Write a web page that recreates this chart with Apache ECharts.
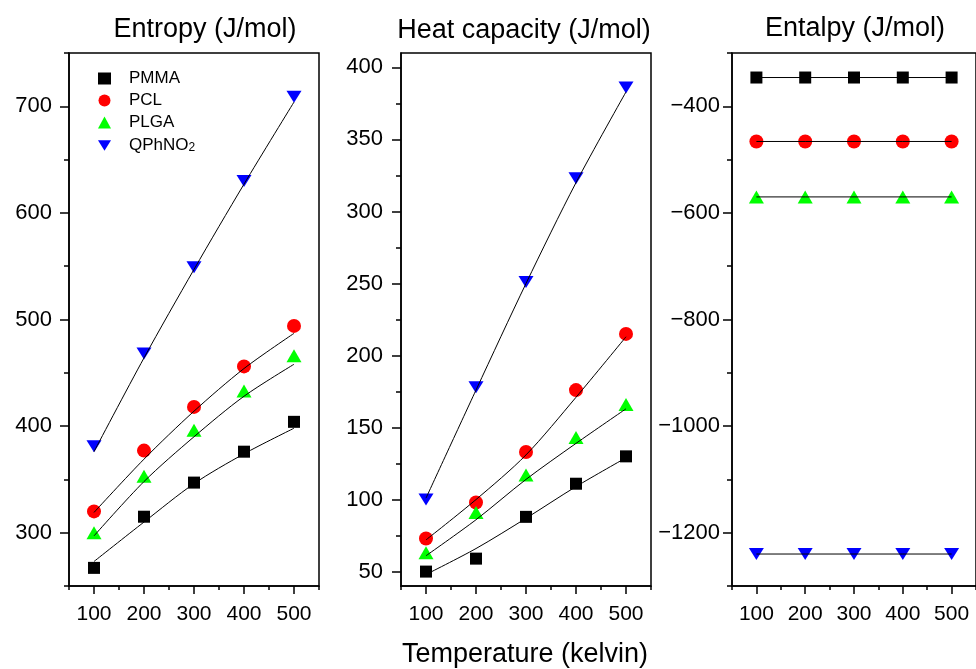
<!DOCTYPE html>
<html>
<head>
<meta charset="utf-8">
<script src="https://cdn.jsdelivr.net/npm/echarts@6/dist/echarts.min.js"></script>
<style>
  html, body { margin: 0; padding: 0; background: #fff; }
  #chart { width: 976px; height: 669px; }
</style>
</head>
<body>
<div id="chart"></div>
<script>
const temps = [100, 200, 300, 400, 500];
const names = ["PMMA", "PCL", "PLGA", "QPhNO2"];

// measured points, order follows names
const entropyPoints = [
  [267, 315, 347, 376, 404],
  [320, 377, 418, 456, 494],
  [300, 353, 396, 433, 466],
  [381, 468, 549, 630, 709],
];
// fitted curves
const entropyFit = [
  [273, 310, 346, 374, 398],
  [319, 369, 414, 454, 487],
  [297, 348, 390, 428, 458],
  [376, 464, 547, 627, 704],
];
const heatPoints = [
  [50, 59, 88, 111, 130],
  [73, 98, 133, 176, 215],
  [63, 91, 117, 143, 166],
  [100, 178, 251, 323, 386],
];
const heatFit = [
  [48, 66, 87, 109, 129],
  [72, 100, 131, 171, 213],
  [61, 86, 114, 139, 163],
  [101, 176, 250, 320, 383],
];
const enthalpyPoints = [
  [-346, -346, -346, -346, -346],
  [-466, -466, -466, -466, -466],
  [-570, -570, -570, -570, -570],
  [-1240, -1240, -1240, -1240, -1240],
];

const tempTicks = [100, 200, 300, 400, 500];
const tempMinor = [50, 150, 250, 350, 450, 550];
const entropyTicks = [300, 400, 500, 600, 700];
const entropyMinor = [250, 350, 450, 550, 650, 750];
const heatTicks = [50, 100, 150, 200, 250, 300, 350, 400];
const heatMinor = [75, 125, 175, 225, 275, 325, 375];
const enthalpyTicks = [-1200, -1000, -800, -600, -400];
const enthalpyMinor = [-1300, -1100, -900, -700, -500, -300];

const colors = ["#000000", "#ff0000", "#00ff00", "#0000ff"];
const downTri = "path://M0,0L10,0L5,8.2Z";
const symbols = ["rect", "circle", "triangle", downTri];
const sizes = [12, 14, [15, 13], [15, 12]];

const FONT = "'Liberation Sans', Arial, sans-serif";
const gridBoxes = [
  { left: 69, top: 53, width: 250, height: 533 },
  { left: 401, top: 53, width: 250, height: 533 },
  { left: 732, top: 53, width: 250, height: 533 },
];
const yRanges = [
  { min: 250, max: 750, ticks: entropyTicks, minor: entropyMinor, margin: 17 },
  { min: 40, max: 410, ticks: heatTicks, minor: heatMinor, margin: 18 },
  { min: -1300, max: -300, ticks: enthalpyTicks, minor: enthalpyMinor, margin: 12 },
];

const lineColor = "#000";
const fmt = (v) => String(v).replace("-", "\u2212");

const xAxis = [];
const yAxis = [];
gridBoxes.forEach((g, i) => {
  // major axis: line, labels, long ticks
  xAxis.push({
    type: "value", gridIndex: i, position: "bottom", min: 50, max: 550,
    axisLine: { lineStyle: { color: lineColor, width: 1.5 } },
    axisTick: { customValues: tempTicks, length: 8, lineStyle: { color: lineColor, width: 1.5 } },
    axisLabel: { customValues: tempTicks, margin: 18, color: "#000", fontSize: 21, fontFamily: FONT },
    splitLine: { show: false },
  });
  // minor ticks only
  xAxis.push({
    type: "value", gridIndex: i, position: "bottom", min: 50, max: 550,
    axisLine: { show: false },
    axisTick: { customValues: tempMinor, length: 4, lineStyle: { color: lineColor, width: 1.5 } },
    axisLabel: { show: false },
    splitLine: { show: false },
  });
  const r = yRanges[i];
  yAxis.push({
    type: "value", gridIndex: i, position: "left", min: r.min, max: r.max,
    axisLine: { show: true, lineStyle: { color: lineColor, width: 1.5 } },
    axisTick: { show: true, customValues: r.ticks, length: 9, lineStyle: { color: lineColor, width: 1.5 } },
    axisLabel: { customValues: r.ticks, margin: r.margin, color: "#000", fontSize: 22, fontFamily: FONT, formatter: fmt },
    splitLine: { show: false },
  });
  yAxis.push({
    type: "value", gridIndex: i, position: "left", min: r.min, max: r.max,
    axisLine: { show: false },
    axisTick: { show: true, customValues: r.minor, length: 5, lineStyle: { color: lineColor, width: 1.5 } },
    axisLabel: { show: false },
    splitLine: { show: false },
  });
});

const panels = [
  { points: entropyPoints, fit: entropyFit },
  { points: heatPoints, fit: heatFit },
  { points: enthalpyPoints, fit: enthalpyPoints },
];

const series = [];
panels.forEach((p, i) => {
  names.forEach((name, k) => {
    series.push({
      name: name + " fit",
      type: "line",
      xAxisIndex: i * 2,
      yAxisIndex: i * 2,
      data: temps.map((t, j) => [t, p.fit[k][j]]),
      smooth: i === 2 ? false : 0.3,
      showSymbol: false,
      silent: true,
      z: 3,
      lineStyle: { color: "#000", width: 1 },
    });
    series.push({
      name,
      type: "scatter",
      xAxisIndex: i * 2,
      yAxisIndex: i * 2,
      data: temps.map((t, j) => [t, p.points[k][j]]),
      symbol: symbols[k],
      symbolSize: sizes[k],
      z: 2,
      itemStyle: { color: colors[k], opacity: 1 },
    });
  });
});

const titleStyle = (text, x, y, size) => ({
  type: "text", x, y,
  style: { text, fill: "#000", fontSize: size, fontFamily: FONT, align: "center", verticalAlign: "middle" },
});

const chart = echarts.init(document.getElementById("chart"));
chart.setOption({
  animation: false,
  backgroundColor: "#fff",
  grid: gridBoxes.map((g) => ({ ...g, show: true, borderColor: "#000", borderWidth: 1.5, backgroundColor: "transparent" })),
  xAxis,
  yAxis,
  legend: {
    orient: "vertical",
    left: 93,
    top: 65,
    itemWidth: 13,
    itemHeight: 12,
    itemGap: 5,
    data: names.map((n, k) => ({ name: n, icon: symbols[k] })),
    formatter: (n) => (n === "QPhNO2" ? "QPhNO{sub|2}" : n),
    textStyle: {
      color: "#000", fontSize: 17, fontFamily: FONT, lineHeight: 17, padding: [0, 0, 0, 13],
      rich: { sub: { fontSize: 12, lineHeight: 12, fontFamily: FONT, verticalAlign: "bottom", padding: [6, 0, 0, 0] } },
    },
    selectedMode: false,
  },
  graphic: [
    titleStyle("Entropy (J/mol)", 205, 30, 27),
    titleStyle("Heat capacity (J/mol)", 524, 31, 27),
    titleStyle("Entalpy (J/mol)", 855, 29, 27),
    titleStyle("Temperature (kelvin)", 525, 655, 27),
  ],
  series,
});
</script>
</body>
</html>
